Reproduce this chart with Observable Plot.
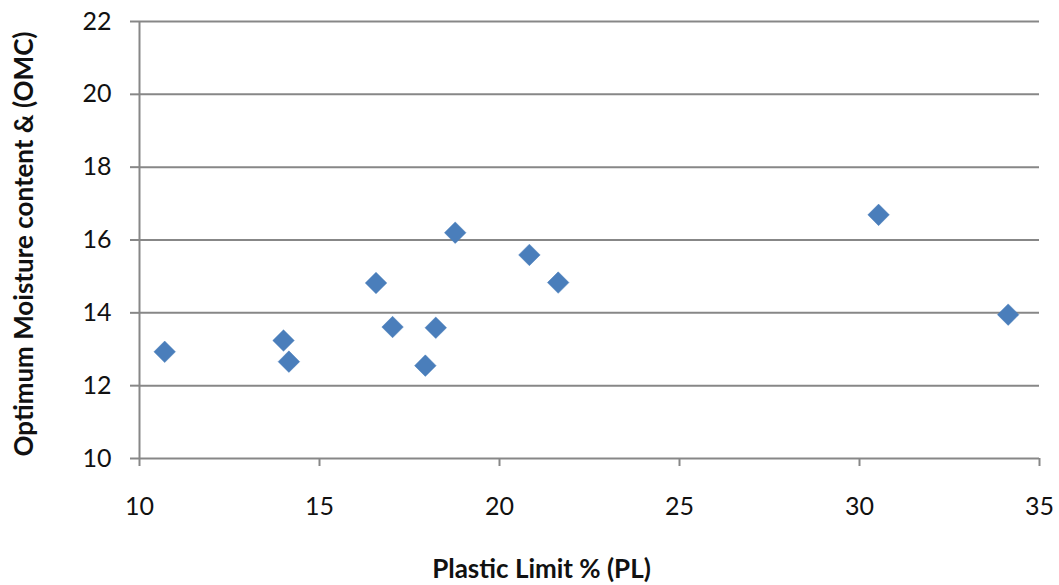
<!DOCTYPE html>
<html>
<head>
<meta charset="utf-8">
<script src="https://cdn.jsdelivr.net/npm/d3@7"></script>
<script src="https://cdn.jsdelivr.net/npm/@observablehq/plot@0.6"></script>
<style>
  html, body { margin: 0; padding: 0; background: #fff; }
  #chart svg { display: block; }
</style>
</head>
<body>
<div id="chart"></div>
<script>
// Plastic limit vs optimum moisture content, one point per soil sample
const plasticLimit = [10.7, 14.0, 14.15, 16.57, 17.03, 18.77, 18.23, 17.94, 20.83, 21.63, 30.53, 34.13];
const omc          = [12.93, 13.24, 12.66, 14.82, 13.61, 16.2, 13.59, 12.55, 15.59, 14.83, 16.69, 13.95];

const xTicks = [10, 15, 20, 25, 30, 35];
const yTicks = [10, 12, 14, 16, 18, 20, 22];

const xTitle = "Plastic Limit % (PL)";
const yTitle = "Optimum Moisture content & (OMC)";

const samples = plasticLimit.map((pl, i) => ({pl, omc: omc[i]}));

const gridColor = "#878787";
const font = "Lato, 'Open Sans', sans-serif";

const chart = Plot.plot({
  width: 1059,
  height: 585,
  marginLeft: 139,
  marginRight: 20,
  marginTop: 21,
  marginBottom: 127,
  style: {fontFamily: font, background: "#fff", color: "#111"},
  x: {domain: [10, 35], axis: null},
  y: {domain: [10, 22], axis: null},
  marks: [
    // horizontal gridlines
    Plot.ruleY(yTicks, {stroke: gridColor, strokeWidth: 2}),
    // vertical value axis line
    Plot.ruleX([10], {stroke: gridColor, strokeWidth: 2}),
    Plot.axisY({
      ticks: yTicks, tickSize: 9, tickPadding: 19,
      stroke: gridColor, strokeWidth: 2,
      fill: "#111", fontSize: 25, fontFamily: font, label: null
    }),
    Plot.axisX({
      ticks: xTicks, tickSize: 8, tickPadding: 31,
      stroke: gridColor, strokeWidth: 2,
      fill: "#111", fontSize: 25, fontFamily: font, label: null
    }),
    Plot.dot(samples, {
      x: "pl", y: "omc", symbol: "diamond2", r: 9.7,
      fill: "#4a7ebb", stroke: "#4a7ebb", strokeWidth: 0.5
    }),
    Plot.text([xTitle], {
      frameAnchor: "bottom", dx: -48, dy: 119,
      fontSize: 26, fontWeight: "bold", fill: "#111", fontFamily: font
    }),
    Plot.text([yTitle], {
      frameAnchor: "left", textAnchor: "middle", lineAnchor: "middle",
      dx: -115, dy: 4, rotate: -90,
      fontSize: 26, fontWeight: "bold", fill: "#111", fontFamily: font
    })
  ]
});

document.getElementById("chart").appendChild(chart);
</script>
</body>
</html>
